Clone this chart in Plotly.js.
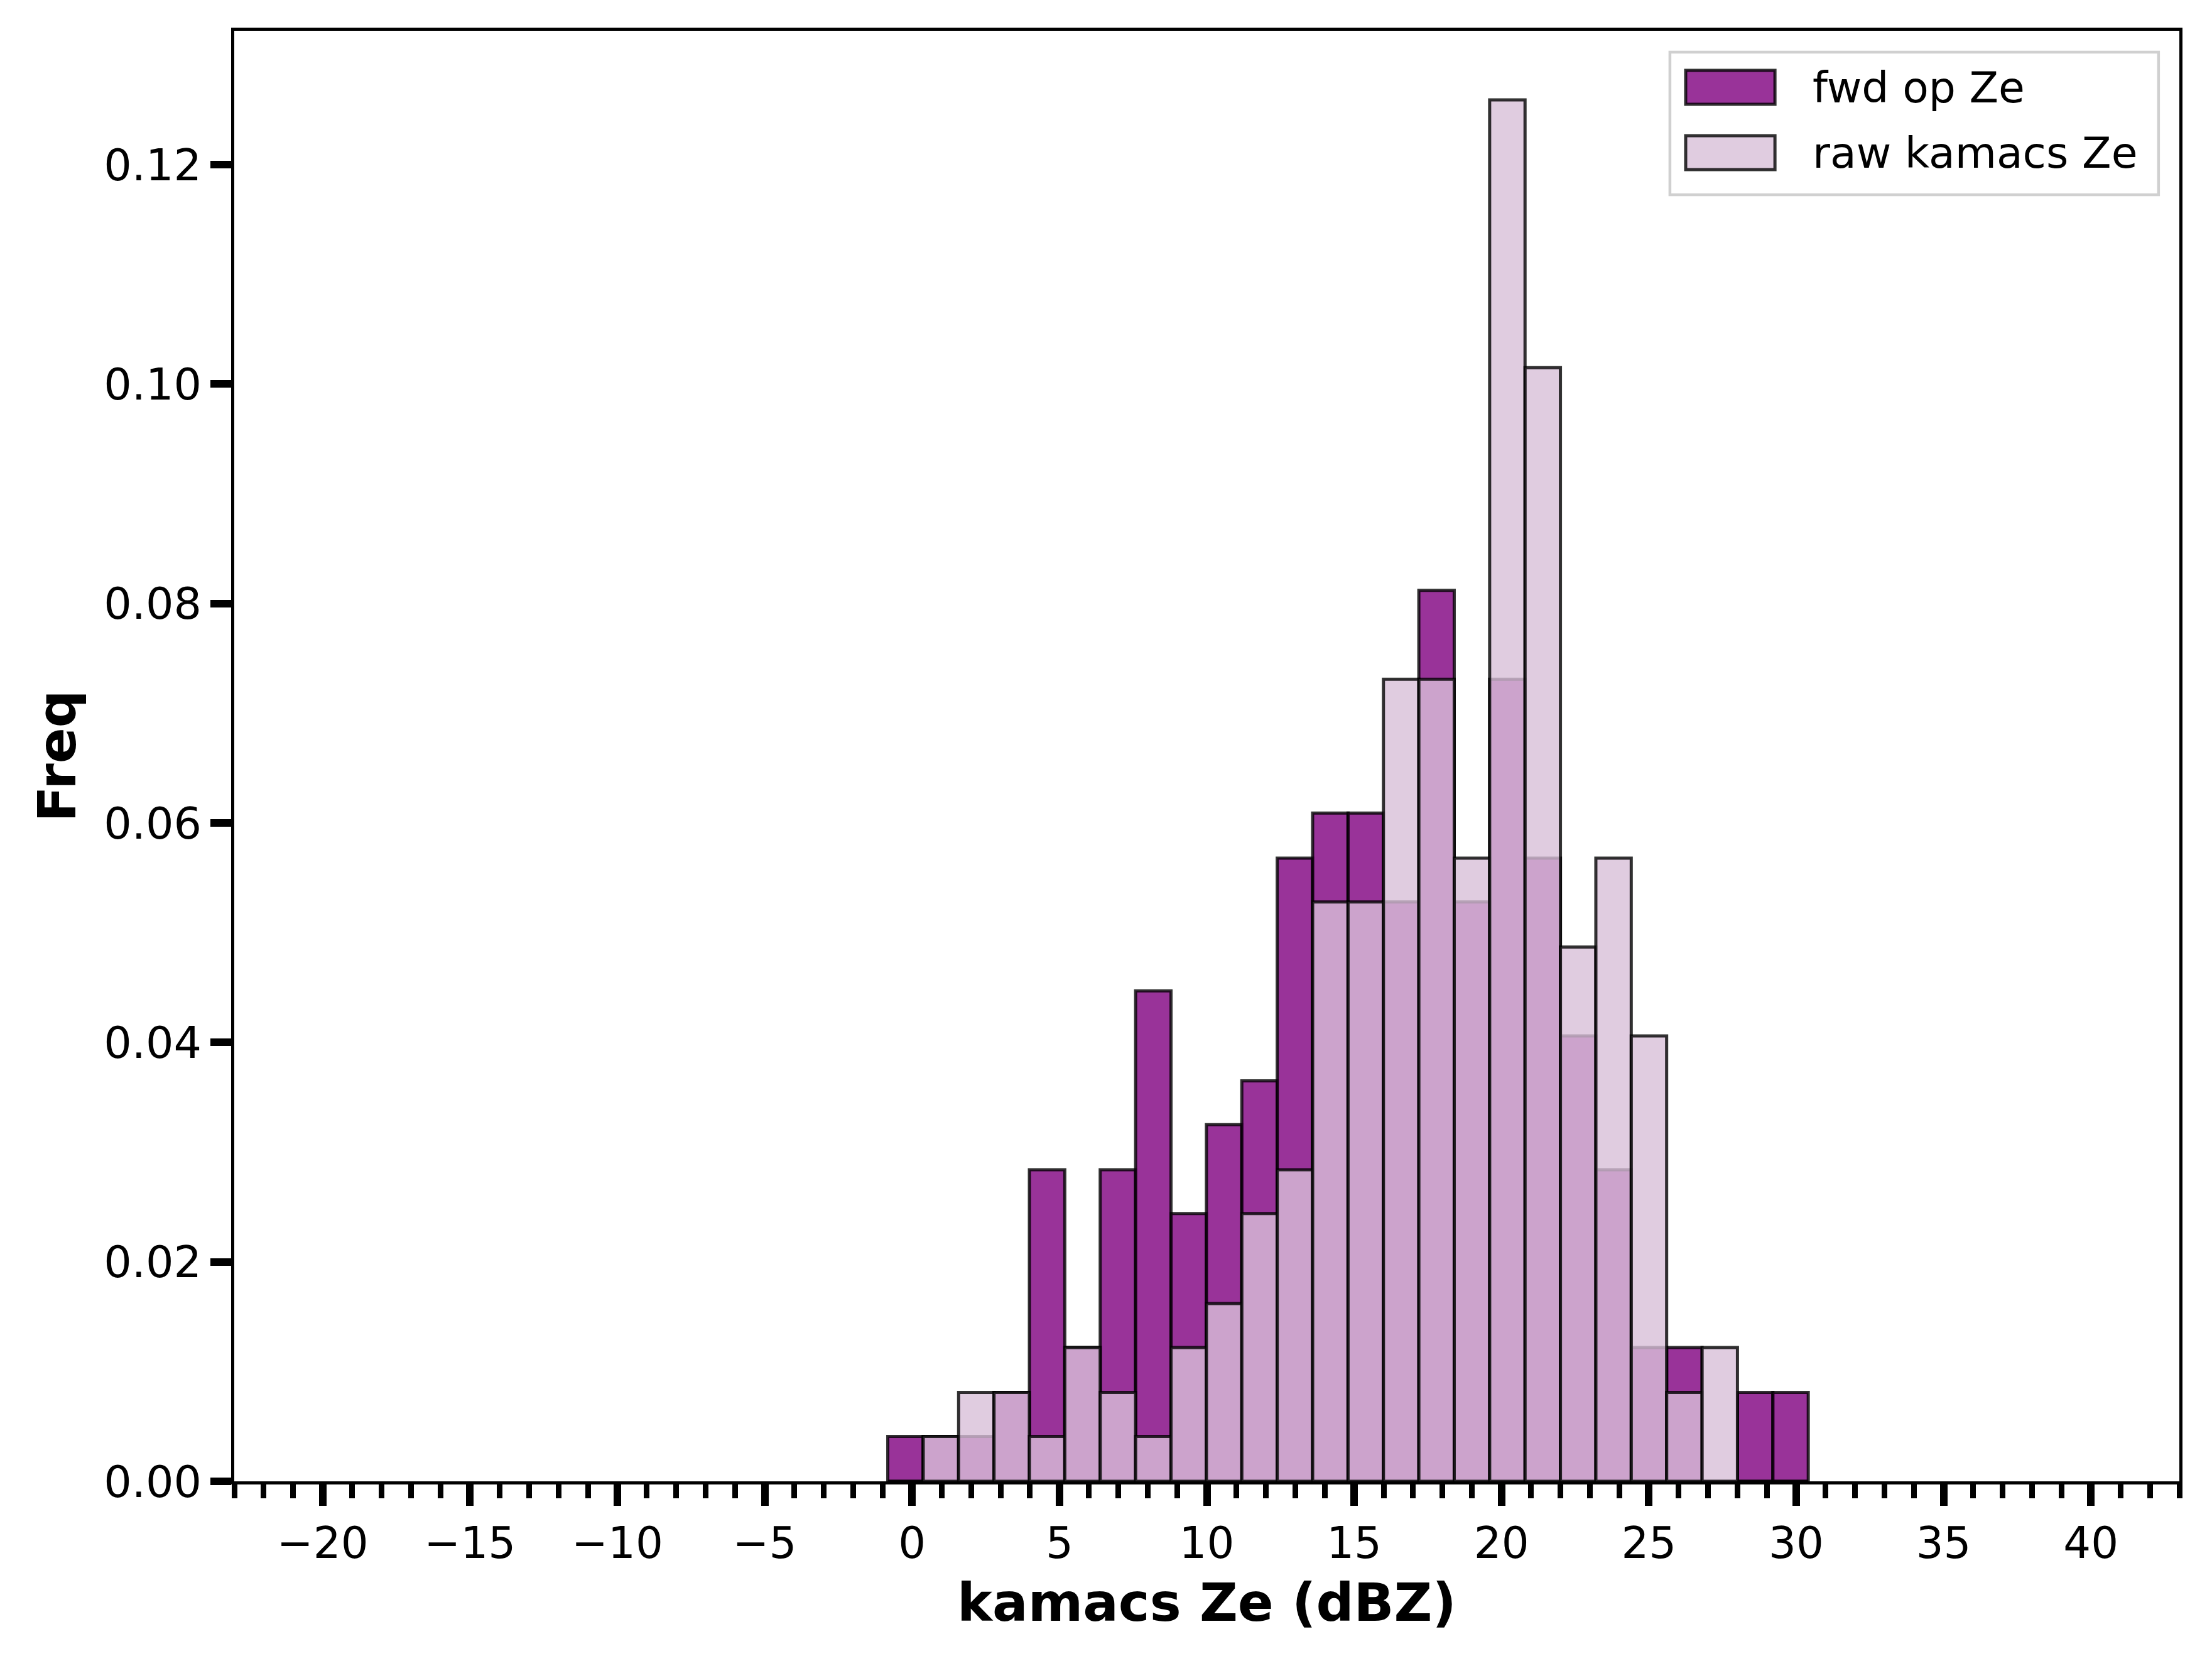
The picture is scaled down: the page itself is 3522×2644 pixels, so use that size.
<!DOCTYPE html>
<html>
<head>
<meta charset="utf-8">
<script src="https://cdn.plot.ly/plotly-3.0.1.min.js"></script>
<style>
  html, body { margin: 0; padding: 0; background: #ffffff; }
  #chart { width: 3522px; height: 2644px; }
</style>
</head>
<body>
<div id="chart"></div>
<script>
// histogram bins (dBZ)
var binLeft = -0.825;
var binWidth = 1.2013;
var nBins = 26;

// normalised frequencies per bin
var fwdFreq = [0.0041, 0.0041, 0.0041, 0.0081, 0.0284, 0.0122, 0.0284, 0.0447, 0.0244, 0.0325,
               0.0365, 0.0568, 0.0609, 0.0609, 0.0528, 0.0812, 0.0528, 0.0731, 0.0568, 0.0406,
               0.0284, 0.0122, 0.0122, 0, 0.0081, 0.0081];
var rawFreq = [0, 0.0041, 0.0081, 0.0081, 0.0041, 0.0122, 0.0081, 0.0041, 0.0122, 0.0162,
               0.0244, 0.0284, 0.0528, 0.0528, 0.0731, 0.0731, 0.0568, 0.1259, 0.1015, 0.0487,
               0.0568, 0.0406, 0.0081, 0.0122, 0, 0];

var seriesNames = ['fwd op Ze', 'raw kamacs Ze'];

var centers = [];
for (var i = 0; i < nBins; i++) {
    centers.push(binLeft + (i + 0.5) * binWidth);
}

var font = 'DejaVu Sans';
var fwdColor = 'rgba(128,0,128,0.8)';
var rawColor = 'rgba(216,191,216,0.8)';
var edge = 'rgba(0,0,0,0.8)';

var data = [
    {
        x: centers, y: fwdFreq, width: binWidth, type: 'bar', name: seriesNames[0],
        marker: {color: fwdColor, line: {color: edge, width: 5}},
        showlegend: false
    },
    {
        x: centers, y: rawFreq, width: binWidth, type: 'bar', name: seriesNames[1],
        marker: {color: rawColor, line: {color: edge, width: 5}},
        showlegend: false
    }
];

// hand-made legend so the patches are big like matplotlib's
var shapes = [
    {type: 'rect', xref: 'paper', yref: 'paper', x0: 0.7381, x1: 0.9893, y0: 0.8870, y1: 0.9853,
     fillcolor: 'rgba(255,255,255,0.8)', line: {color: '#d0d0d0', width: 4.5}, layer: 'above'},
    {type: 'rect', xref: 'paper', yref: 'paper', x0: 0.7462, x1: 0.7921, y0: 0.9493, y1: 0.9727,
     fillcolor: fwdColor, line: {color: edge, width: 5}, layer: 'above'},
    {type: 'rect', xref: 'paper', yref: 'paper', x0: 0.7462, x1: 0.7921, y0: 0.9043, y1: 0.9277,
     fillcolor: rawColor, line: {color: edge, width: 5}, layer: 'above'}
];
var annotations = [
    {xref: 'paper', yref: 'paper', x: 0.8108, y: 0.9610, xanchor: 'left', yanchor: 'middle',
     text: seriesNames[0], showarrow: false, font: {family: font, size: 68, color: '#000'}},
    {xref: 'paper', yref: 'paper', x: 0.8108, y: 0.9159, xanchor: 'left', yanchor: 'middle',
     text: seriesNames[1], showarrow: false, font: {family: font, size: 68, color: '#000'}}
];

var layout = {
    width: 3522, height: 2644,
    margin: {l: 373, r: 52, t: 49, b: 286, pad: 0},
    paper_bgcolor: '#ffffff', plot_bgcolor: '#ffffff',
    barmode: 'overlay', bargap: 0,
    font: {family: font, color: '#000'},
    xaxis: {
        range: [-23, 43], tickmode: 'linear', tick0: -20, dtick: 5,
        ticks: 'outside', ticklen: 34, tickwidth: 12, tickcolor: '#000',
        minor: {tickmode: 'linear', tick0: 0, dtick: 1, ticks: 'outside', ticklen: 22, tickwidth: 9, tickcolor: '#000'},
        showline: true, linecolor: '#000', linewidth: 5, mirror: true,
        showgrid: false, zeroline: false,
        tickfont: {family: font, size: 69, color: '#000'},
        title: {text: 'kamacs Ze (dBZ)', standoff: 28, font: {family: font, size: 84, weight: 'bold', color: '#000'}}
    },
    yaxis: {
        range: [0, 0.1322], tickmode: 'linear', tick0: 0, dtick: 0.02, tickformat: '.2f',
        ticks: 'outside', ticklen: 33, tickwidth: 12, tickcolor: '#000',
        showline: true, linecolor: '#000', linewidth: 5, mirror: true,
        showgrid: false, zeroline: false,
        tickfont: {family: font, size: 70, color: '#000'},
        title: {text: 'Freq', standoff: 18, font: {family: font, size: 84, weight: 'bold', color: '#000'}}
    },
    shapes: shapes,
    annotations: annotations,
    showlegend: false
};

Plotly.newPlot('chart', data, layout, {displayModeBar: false, staticPlot: true});
</script>
</body>
</html>
